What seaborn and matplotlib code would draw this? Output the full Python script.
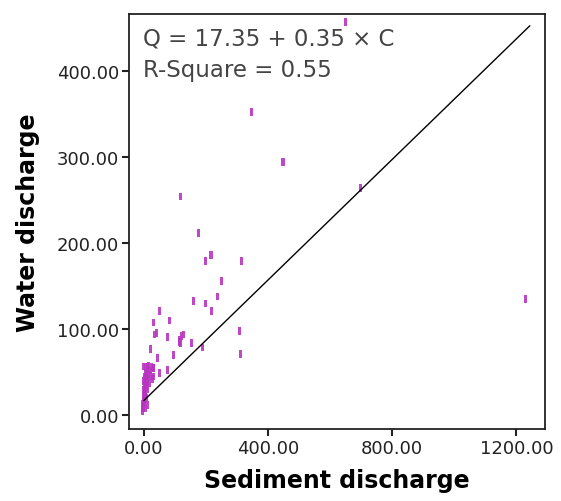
import numpy as np
import matplotlib.pyplot as plt
import seaborn as sns
import pandas as pd

# Sediment discharge (C) and water discharge (Q)
sediment = [649, 347, 448, 698, 119, 177, 216, 197, 315, 250, 236, 159, 197, 217, 1230,
            49, 82, 30, 35, 39, 76, 307, 312, 127, 114, 119, 122, 116, 152, 189, 96, 22, 43,
            49, 76, -2, 12, 30, 30,
            -5, -3, -2, 0, 2, -4, 1, 3, -1, 5, 2, 6, 0, 4, 8, 3, 7, 10, 5, 12,
            2, 9, 15, 6, 20, 11, 4, 25, 14, 30, 22, 28, 18, 1, -2, 8, 12, 0, 10, 6]
water = [457, 352, 294, 264, 254, 212, 186, 179, 179, 156, 138, 133, 130, 121, 135,
         121, 110, 108, 94, 96, 91, 98, 71, 94, 88, 84, 92, 85, 84, 79, 70, 77, 67,
         49, 53, 57, 57, 55, 45,
         5, 8, 10, 12, 15, 14, 18, 20, 22, 24, 26, 28, 30, 32, 34, 36, 38, 40, 42, 44,
         45, 47, 48, 50, 52, 54, 56, 56, 58, 55, 46, 42, 38, 28, 18, 20, 30, 40, 12, 8]

intercept, slope = 17.35, 0.35
r_square = 0.55

df = pd.DataFrame({'Sediment discharge': sediment, 'Water discharge': water})
fit_x = np.array([0, max(sediment) + 13])
fit = pd.DataFrame({'x': fit_x, 'y': intercept + slope * fit_x})

sns.set_style('white')
plt.rcParams['font.family'] = ['DejaVu Sans']

fig = plt.figure(figsize=(5.61, 5.02), dpi=100)
ax = fig.add_axes([0.230, 0.143, 0.741, 0.827])

bar = [(-0.4, -1), (0.4, -1), (0.4, 1), (-0.4, 1)]
sns.scatterplot(data=df, x='Sediment discharge', y='Water discharge', ax=ax,
                marker=bar, s=30, color='#b834c0', edgecolor='none', alpha=0.9, zorder=2)
sns.lineplot(data=fit, x='x', y='y', ax=ax, color='black', linewidth=1, zorder=3)

ax.set_xlim(-48, 1291)
ax.set_ylim(-16, 466)
ax.set_xticks([0, 400, 800, 1200])
ax.set_yticks([0, 100, 200, 300, 400])
ax.set_xticklabels([f'{v:.2f}' for v in [0, 400, 800, 1200]])
ax.set_yticklabels([f'{v:.2f}' for v in [0, 100, 200, 300, 400]])
ax.tick_params(axis='both', direction='out', length=5, width=1.5, labelsize=13,
               colors='#222222', pad=2)
ax.tick_params(left=True, bottom=True)
for sp in ax.spines.values():
    sp.set_color('#222222')
    sp.set_linewidth(1.3)

ax.set_xlabel('Sediment discharge', fontsize=17, fontweight='bold', labelpad=8,
              color='black')
ax.set_ylabel('Water discharge', fontsize=17, fontweight='bold', labelpad=12,
              color='black')

ax.text(0.033, 0.97, f'Q = {intercept:.2f} + {slope:.2f} \u00d7 C', transform=ax.transAxes,
        fontsize=16.5, color='#444444', va='top', ha='left')
ax.text(0.033, 0.895, f'R-Square = {r_square:.2f}', transform=ax.transAxes,
        fontsize=16.5, color='#444444', va='top', ha='left')

fig.savefig('out.png', dpi=100)
